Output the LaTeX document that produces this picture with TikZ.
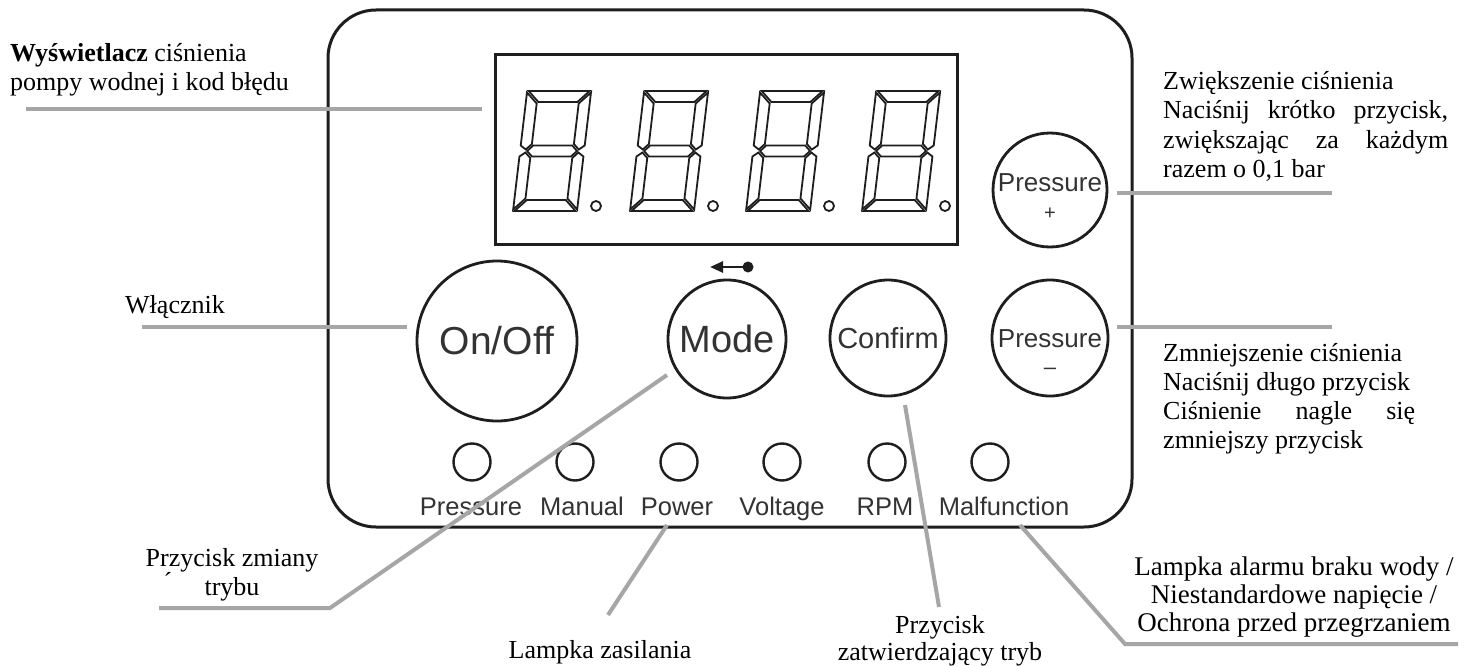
\documentclass[tikz,border=0pt]{standalone}
\usepackage{fontspec}
\setmainfont{Liberation Serif}
\newfontfamily\arialf{Liberation Sans}
\usetikzlibrary{arrows.meta}
\definecolor{lead}{HTML}{A6A6A6}
\definecolor{ink}{HTML}{1E1E1E}
\definecolor{lab}{HTML}{333333}
\begin{document}
\begin{tikzpicture}[x=1pt,y=-1pt,
  leader/.style={draw=lead, line width=4pt},
  btn/.style={circle, draw=ink, line width=2.8pt, inner sep=0pt, text=lab},
  led/.style={circle, draw=ink, line width=2.4pt, minimum size=37pt, inner sep=0pt},
  ledlab/.style={font=\arialf\fontsize{25.5}{26}\selectfont, text=lab, anchor=base, inner sep=0pt},
  txt/.style={font=\fontsize{26}{29}\selectfont, inner sep=0pt, anchor=base west},
  txtc/.style={font=\fontsize{26}{29}\selectfont, inner sep=0pt, anchor=base},
  seg/.style={draw=ink, line width=1.8pt, line join=miter}
]
\fill[white] (0,0) rectangle (1469,666);
\useasboundingbox (0,0) rectangle (1469,666);

% panel
\draw[ink, line width=3pt, rounded corners=48pt] (328,10) rectangle (1132,527);
% display
\draw[ink, line width=3pt] (495,55) rectangle (957,244);

% digits
\foreach \dx in {513,630,746,862}{
  \begin{scope}[shift={(\dx,211)}, xslant=0.118]
    \draw[seg] (1.5,-120) -- (62.5,-120) -- (51.5,-109) -- (12.5,-109) -- cycle;
    \draw[seg] (1.5,0) -- (62.5,0) -- (51.5,-11) -- (12.5,-11) -- cycle;
    \draw[seg] (7,-60) -- (12.5,-65.5) -- (51.5,-65.5) -- (57,-60) -- (51.5,-54.5) -- (12.5,-54.5) -- cycle;
    \draw[seg] (0,-118.5) -- (11,-107.5) -- (11,-67) -- (5.5,-61.5) -- (0,-65.5) -- cycle;
    \draw[seg] (0,-1.5) -- (11,-12.5) -- (11,-53) -- (5.5,-58.5) -- (0,-54.5) -- cycle;
    \draw[seg] (64,-118.5) -- (53,-107.5) -- (53,-67) -- (58.5,-61.5) -- (64,-65.5) -- cycle;
    \draw[seg] (64,-1.5) -- (53,-12.5) -- (53,-53) -- (58.5,-58.5) -- (64,-54.5) -- cycle;
  \end{scope}
  \draw[ink, line width=1.8pt] (\dx+83,206) circle[radius=5pt];
}

% buttons
\node[btn, minimum size=160pt, font=\arialf\fontsize{39}{39}\selectfont] (onoff) at (497,341) {On/Off};
\node[btn, minimum size=118pt, font=\arialf\fontsize{38}{38}\selectfont] (mode) at (727,339) {Mode};
\node[btn, minimum size=116pt, font=\arialf\fontsize{29}{29}\selectfont] (confirm) at (888,338) {Confirm};
\node[btn, minimum size=116pt] (pminus) at (1050,338) {};
\node[btn, minimum size=114pt] (pplus) at (1050,190) {};
\node[font=\arialf\fontsize{26}{26}\selectfont, text=lab, inner sep=0pt] (pplusT) at (1050,183) {Pressure};
\node[font=\arialf\fontsize{20}{20}\selectfont, text=lab, inner sep=0pt] (pplusS) at (1050,214) {+};
\node[font=\arialf\fontsize{26}{26}\selectfont, text=lab, inner sep=0pt] (pminusT) at (1050,339) {Pressure};
\node[font=\arialf\fontsize{22}{22}\selectfont, text=lab, inner sep=0pt] (pminusS) at (1050,371) {–};

% mode arrow
\coordinate (arrT) at (710,267);
\coordinate (arrD) at (748,267);
\draw[ink, line width=2.6pt, -{Triangle[length=13pt,width=11pt]}] (arrD) -- (arrT);
\fill[ink] (arrD) circle[radius=5.5pt];

% LEDs
\foreach \lx/\nm in {472/l1,575/l2,679/l3,782/l4,887/l5,990/l6}
  \node[led] (\nm) at (\lx,462) {};
\node[ledlab] (l1T) at (471,515) {Pressure};
\node[ledlab] (l2T) at (582,515) {Manual};
\node[ledlab] (l3T) at (677,515) {Power};
\node[ledlab] (l4T) at (782,515) {Voltage};
\node[ledlab] (l5T) at (885,515) {RPM};
\node[ledlab] (l6T) at (1004,515) {Malfunction};

% texts
\node[txt] (dispT1) at (10,62) {\textbf{Wyświetlacz} ciśnienia};
\node[txt] (dispT2) at (10,91) {pompy wodnej i kod błędu};
\node[txt] (wlT) at (125,313) {Włącznik};
\node[txt] (incT1) at (1163,90) {Zwiększenie ciśnienia};
\node[txt] (incT2) at (1163,119) {\makebox[285pt][s]{Naciśnij krótko przycisk,}};
\node[txt] (incT3) at (1163,148) {\makebox[285pt][s]{zwiększając za każdym}};
\node[txt] (incT4) at (1163,177) {razem o 0,1 bar};
\node[txt] (decT1) at (1163,361) {Zmniejszenie ciśnienia};
\node[txt] (decT2) at (1163,390) {Naciśnij długo przycisk};
\node[txt] (decT3) at (1163,419) {\makebox[252pt][s]{Ciśnienie nagle się}};
\node[txt] (decT4) at (1163,448) {zmniejszy przycisk};
\node[txtc] (modeT1) at (232,566) {Przycisk zmiany};
\node[txtc] (modeT2) at (232,595) {trybu};
\node[txtc] (accT) at (168,590) {´};
\node[txtc] (powT) at (600,658) {Lampka zasilania};
\node[txtc] (confT1) at (940,633) {Przycisk};
\node[txtc] (confT2) at (940,660) {zatwierdzający tryb};
\node[txtc, font=\fontsize{27}{29}\selectfont] (malT1) at (1294,575) {Lampka alarmu braku wody /};
\node[txtc, font=\fontsize{27}{29}\selectfont] (malT2) at (1294,603) {Niestandardowe napięcie /};
\node[txtc, font=\fontsize{27}{29}\selectfont] (malT3) at (1294,631) {Ochrona przed przegrzaniem};

% leader lines
\coordinate (dispA) at (26,109);   \coordinate (dispB) at (482,109);
\coordinate (wlA) at (142,327);    \coordinate (wlB) at (407,327);
\coordinate (incA) at (1117,193);  \coordinate (incB) at (1332,193);
\coordinate (decA) at (1117,327);  \coordinate (decB) at (1332,327);
\coordinate (modeA) at (667,375);  \coordinate (modeK) at (330,608); \coordinate (modeE) at (159,608);
\coordinate (powA) at (667,525);   \coordinate (powB) at (608,615);
\coordinate (confA) at (905,405);  \coordinate (confB) at (939,607);
\coordinate (malA) at (1020,525);  \coordinate (malK) at (1125,644); \coordinate (malE) at (1458,644);
\draw[leader] (dispA) -- (dispB);
\draw[leader] (wlA) -- (wlB);
\draw[leader] (incA) -- (incB);
\draw[leader] (decA) -- (decB);
\draw[leader] (modeA) -- (modeK) -- (modeE);
\draw[leader] (powA) -- (powB);
\draw[leader] (confA) -- (confB);
\draw[leader] (malA) -- (malK) -- (malE);
\end{tikzpicture}
\end{document}
